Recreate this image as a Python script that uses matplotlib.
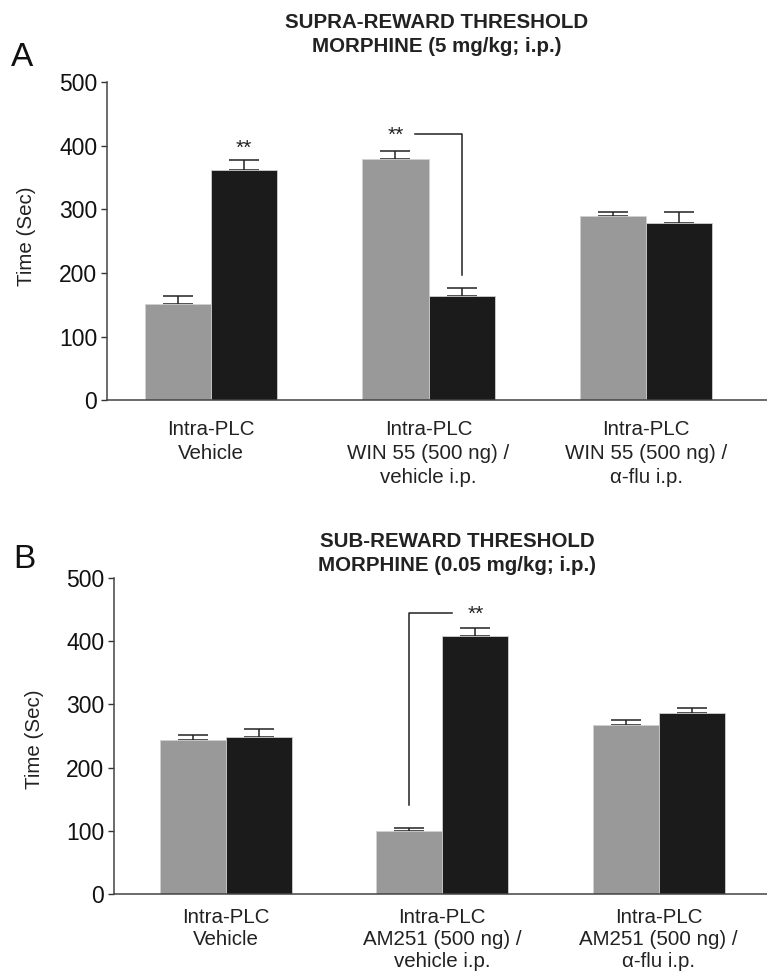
import numpy as np
import matplotlib
matplotlib.use("Agg")
import matplotlib.pyplot as plt

plt.rcParams['font.family'] = ['Liberation Sans', 'DejaVu Sans']

# panel A: supra-reward threshold morphine
labels_a = ["Intra-PLC\nVehicle",
            "Intra-PLC\nWIN 55 (500 ng) /\nvehicle i.p.",
            "Intra-PLC\nWIN 55 (500 ng) /\n\u03b1-flu i.p."]
gray_a = [151, 379, 289]
gray_a_err = [13, 13, 7]
black_a = [361, 164, 279]
black_a_err = [17, 13, 17]

# panel B: sub-reward threshold morphine
labels_b = ["Intra-PLC\nVehicle",
            "Intra-PLC\nAM251 (500 ng) /\nvehicle i.p.",
            "Intra-PLC\nAM251 (500 ng) /\n\u03b1-flu i.p."]
gray_b = [243, 99, 267]
gray_b_err = [9, 6, 8]
black_b = [249, 408, 286]
black_b_err = [12, 13, 9]

GRAY = "#999999"
BLACK = "#1b1b1b"
W = 0.305


def draw_panel(ax, labels, gray, gerr, black, berr, xlim, lsp, pad):
    x = np.arange(len(labels))
    ax.bar(x - W / 2, gray, W, color=GRAY, edgecolor="#d0d0d0", linewidth=0.6,
           zorder=2)
    ax.bar(x + W / 2, black, W, color=BLACK, edgecolor="#d0d0d0", linewidth=0.6,
           zorder=2)
    ax.errorbar(x - W / 2, gray, yerr=[np.zeros(len(gray)), gerr], fmt="none",
                ecolor="#222222", elinewidth=1.1, capsize=11, capthick=1.1, zorder=1)
    ax.errorbar(x + W / 2, black, yerr=[np.zeros(len(black)), berr], fmt="none",
                ecolor="#222222", elinewidth=1.1, capsize=11, capthick=1.1, zorder=1)
    ax.set_xlim(*xlim)
    ax.set_ylim(0, 500)
    ax.set_yticks([0, 100, 200, 300, 400, 500])
    ax.set_xticks(x)
    ax.set_xticklabels(labels, fontsize=14.8, color="#222222", linespacing=lsp)
    ax.tick_params(axis="x", length=0, pad=pad)
    ax.tick_params(axis="y", length=4, width=1, labelsize=16.5, pad=3,
                   colors="#333333", labelcolor="#111111")
    ax.spines["top"].set_visible(False)
    ax.spines["right"].set_visible(False)
    for s in ("left", "bottom"):
        ax.spines[s].set_color("#444444")
        ax.spines[s].set_linewidth(1.1)
    ax.set_ylabel("Time (Sec)", fontsize=14.8, color="#222222")


fig = plt.figure(figsize=(7.67, 9.76), dpi=100)

ax_a = fig.add_axes([0.1395, 0.590, 0.8605, 0.326])
draw_panel(ax_a, labels_a, gray_a, gray_a_err, black_a, black_a_err,
           (-0.478, 2.556), 1.36, 14)
ax_a.yaxis.set_label_coords(-0.107, 0.514)
ax_a.set_title("SUPRA-REWARD THRESHOLD\nMORPHINE (5 mg/kg; i.p.)", fontsize=14.8,
               fontweight="bold", color="#222222", x=0.50, y=1.067, linespacing=1.35)
# significance marks
ax_a.text(0 + W / 2, black_a[0] + black_a_err[0] + 18, "**", ha="center", va="center",
          fontsize=15, color="#222222")
ax_a.text(1 - W / 2, 416, "**", ha="center", va="center", fontsize=15, color="#222222")
ax_a.plot([0.94, 1 + W / 2, 1 + W / 2], [418, 418, 196], color="#222222", lw=1.1)

ax_b = fig.add_axes([0.1486, 0.084, 0.8514, 0.3238])
draw_panel(ax_b, labels_b, gray_b, gray_b_err, black_b, black_b_err,
           (-0.517, 2.50), 1.2, 10)
ax_b.yaxis.set_label_coords(-0.107, 0.49)
ax_b.set_title("SUB-REWARD THRESHOLD\nMORPHINE (0.05 mg/kg; i.p.)", fontsize=14.8,
               fontweight="bold", color="#222222", x=0.525, y=0.995, linespacing=1.35)
ax_b.plot([1 - W / 2, 1 - W / 2, 1.045], [141, 445, 445], color="#222222", lw=1.1)
ax_b.text(1 + W / 2, 443, "**", ha="center", va="center", fontsize=15, color="#222222")

fig.text(22 / 767, 1 - 58 / 976, "A", fontsize=24, ha="center", va="center",
         color="#111111")
fig.text(24 / 767, 1 - 560 / 976, "B", fontsize=24, ha="center", va="center",
         color="#111111")

fig.savefig("out.png", dpi=100)
